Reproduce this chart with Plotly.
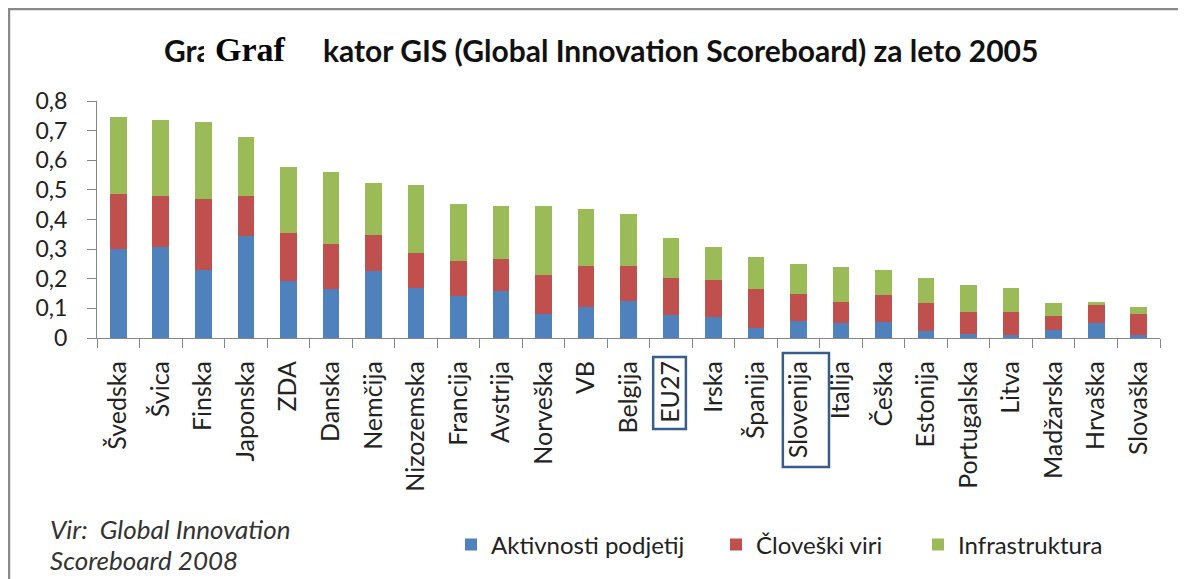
import plotly.graph_objects as go

# ---- data ----
countries = ["Švedska", "Švica", "Finska", "Japonska", "ZDA", "Danska", "Nemčija",
             "Nizozemska", "Francija", "Avstrija", "Norveška", "VB", "Belgija", "EU27",
             "Irska", "Španija", "Slovenija", "Italija", "Češka", "Estonija",
             "Portugalska", "Litva", "Madžarska", "Hrvaška", "Slovaška"]
aktivnosti = [0.300, 0.308, 0.231, 0.346, 0.191, 0.165, 0.225, 0.170, 0.143, 0.157,
              0.082, 0.104, 0.126, 0.078, 0.070, 0.035, 0.056, 0.049, 0.053, 0.023,
              0.014, 0.009, 0.027, 0.049, 0.009]
cloveski = [0.186, 0.173, 0.238, 0.132, 0.165, 0.152, 0.122, 0.116, 0.117, 0.108,
            0.130, 0.139, 0.117, 0.123, 0.126, 0.131, 0.093, 0.073, 0.091, 0.094,
            0.073, 0.078, 0.047, 0.061, 0.071]
infra = [0.259, 0.256, 0.259, 0.201, 0.220, 0.242, 0.177, 0.230, 0.191, 0.181,
         0.234, 0.191, 0.174, 0.137, 0.112, 0.107, 0.102, 0.117, 0.087, 0.087,
         0.091, 0.083, 0.043, 0.012, 0.025]
series_names = ["Aktivnosti podjetij", "Človeški viri", "Infrastruktura"]
colors = ["#4F81BD", "#C0504D", "#9BBB59"]
y_ticks = [0, 0.1, 0.2, 0.3, 0.4, 0.5, 0.6, 0.7, 0.8]
highlighted = ["EU27", "Slovenija"]

# page has an 8px body margin; figure coordinates = page coordinates - 8
OFF = 8
W, H = 1178, 571
ML, MR, MT, MB = 89, 26, 93, 241
PW, PH = W - ML - MR, H - MT - MB


def fx(px):  # page pixel x -> paper
    return (px - OFF - ML) / PW


def fy(py):  # page pixel y -> paper
    return (H - MB - (py - OFF)) / PH


FONT = "Lato, 'Open Sans', sans-serif"

fig = go.Figure()
legends = ["legend", "legend2", "legend3"]
for name, vals, col, lg in zip(series_names, [aktivnosti, cloveski, infra], colors, legends):
    fig.add_trace(go.Bar(x=countries, y=vals, name=name, marker_color=col,
                         marker_line_width=0, legend=lg, showlegend=True))

leg_left = [451, 716, 918]
leg_common = dict(orientation="h", font=dict(family=FONT, size=24, color="#222"),
                  bgcolor="rgba(0,0,0,0)", yanchor="middle", xanchor="left",
                  itemwidth=30, y=fy(545))
fig.update_layout(
    showlegend=True,
    legend=dict(x=fx(leg_left[0]), **leg_common),
    legend2=dict(x=fx(leg_left[1]), **leg_common),
    legend3=dict(x=fx(leg_left[2]), **leg_common),
)

fig.update_layout(
    width=W, height=H,
    margin=dict(l=ML, r=MR, t=MT, b=MB, pad=0),
    barmode="stack", bargap=0.61,
    paper_bgcolor="white", plot_bgcolor="white",
    separators=",.",
    font=dict(family=FONT, size=20, color="#222"),
    xaxis=dict(type="category", showline=True, linecolor="#868686", linewidth=1,
               ticks="outside", tickson="boundaries", ticklen=9, tickcolor="#868686",
               tickangle=-90, tickfont=dict(family=FONT, size=25, color="#222"),
               ticklabelstandoff=12, showgrid=False, fixedrange=True),
    yaxis=dict(range=[0, 0.8], tickvals=y_ticks, showline=True, linecolor="#868686",
               linewidth=1, ticks="outside", ticklen=9, tickcolor="#868686",
               tickfont=dict(family=FONT, size=23, color="#222"),
               ticklabelstandoff=15, showgrid=False, zeroline=False, fixedrange=True),
)

# outer frame (top and left edge visible)
fig.add_shape(type="line", xref="paper", yref="paper", x0=fx(8), x1=fx(1200),
              y0=fy(9), y1=fy(9), line=dict(color="#8A8A8A", width=2.5))
fig.add_shape(type="line", xref="paper", yref="paper", x0=fx(9), x1=fx(9),
              y0=fy(8), y1=fy(600), line=dict(color="#8A8A8A", width=2.5))

# boxes around highlighted labels
i_eu = countries.index(highlighted[0])
i_si = countries.index(highlighted[1])
fig.add_shape(type="rect", xref="x", yref="paper", x0=i_eu - 0.42, x1=i_eu + 0.35,
              y0=fy(357), y1=fy(429), line=dict(color="#385D8A", width=2.5))
fig.add_shape(type="rect", xref="x", yref="paper", x0=i_si - 0.37, x1=i_si + 0.715,
              y0=fy(353), y1=fy(467), line=dict(color="#385D8A", width=2.5))

# title (as in the original, with overlapping text: the "Graf" box hides part of "Gra")
fig.add_annotation(xref="paper", yref="paper", x=fx(162), y=fy(50), xanchor="left",
                   yanchor="middle", showarrow=False, text="<b>Gra</b>",
                   font=dict(family=FONT, size=30, color="#111"))
fig.add_annotation(xref="paper", yref="paper", x=fx(204), y=fy(49), xanchor="left",
                   yanchor="middle", showarrow=False, text="<b>Graf</b>",
                   font=dict(family="'Liberation Serif', 'Times New Roman', serif", size=34,
                             color="#000"), bgcolor="white", borderpad=11, borderwidth=0)
fig.add_annotation(xref="paper", yref="paper", x=fx(321), y=fy(50), xanchor="left",
                   yanchor="middle", showarrow=False,
                   text="<b>kator GIS (Global Innovation Scoreboard) za leto 2005</b>",
                   font=dict(family=FONT, size=30, color="#111"))

# source
fig.add_annotation(xref="paper", yref="paper", x=fx(48), y=fy(529), xanchor="left",
                   yanchor="middle", showarrow=False, text="<i>Vir:  Global Innovation</i>",
                   font=dict(family=FONT, size=26, color="#333"))
fig.add_annotation(xref="paper", yref="paper", x=fx(48), y=fy(560), xanchor="left",
                   yanchor="middle", showarrow=False, text="<i>Scoreboard 2008</i>",
                   font=dict(family=FONT, size=26, color="#333"))

fig.write_html("out.html")
